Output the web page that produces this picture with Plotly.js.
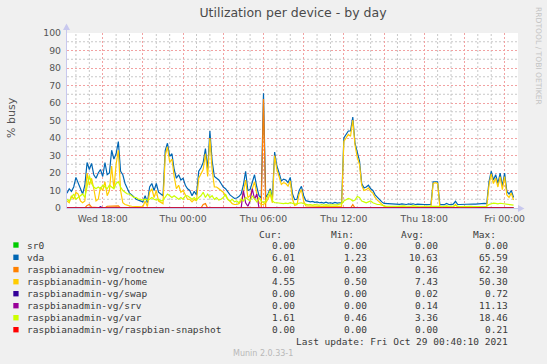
<!DOCTYPE html>
<html>
<head>
<meta charset="utf-8">
<script src="https://cdn.plot.ly/plotly-3.0.1.min.js"></script>
<style>
  html, body { margin: 0; padding: 0; background: #f0f0f0; }
  #chart { width: 547px; height: 364px; }
</style>
</head>
<body>
<div id="chart"></div>
<script>
// ---------------- DATA ----------------
// 10-minute samples starting Wed 2021-10-27 15:20
const sampleStart = '2021-10-27T15:20:00Z';
const sampleStepMinutes = 10;

const vda = [
  8.5, 11, 9.5, 12, 17.5, 14, 10.5, 8, 13, 26,
  22, 25.5, 19, 17, 20, 22, 18, 26, 19, 20,
  33, 28, 31, 38, 21, 19, 14, 11, 8.5, 7.5,
  6, 5, 4.5, 4, 3.5, 7, 3, 12, 14, 10,
  14, 9, 8, 7, 33, 37, 29.5, 31, 22, 17,
  19, 16, 17, 13, 11, 10, 7, 9.5, 7.5, 21,
  23, 26, 34, 22, 44, 27, 18, 17, 16, 14,
  12, 11, 9, 7.5, 6.5, 5.5, 5.7, 6.5, 8, 13,
  21, 10, 10.5, 15, 19, 12, 7, 5.7, 65.59, 6,
  8, 11, 6, 32, 24, 20, 15.5, 16.5, 16, 14.5,
  17.5, 8, 4.8, 5, 10, 12.4, 7, 4.2, 4, 3.5,
  3.8, 3.2, 3.5, 3, 3.2, 2.8, 3.3, 2.8, 3, 2.7,
  3.2, 2.8, 3, 2.8, 40, 42, 44, 44, 52, 37,
  32, 27, 14, 11.5, 12, 13, 11, 10, 7.5, 6,
  5, 3.5, 2.6, 2.5, 2.4, 2.2, 2.5, 2.2, 2.3, 2.1,
  2.4, 2.2, 2.0, 2.3, 2.1, 2.4, 2.0, 2.2, 2.0, 2.1,
  2.0, 1.9, 1.9, 2.0, 15, 15.2, 15, 1.9, 2.0, 1.9,
  2.6, 2.0, 1.9, 2.2, 3.8, 2.0, 2.0, 2.1, 2.0, 2.2,
  2.0, 2.1, 2.3, 2.2, 2.4, 2.2, 2.5, 2.6, 2.5, 15,
  21, 16, 19, 14, 20, 12.5, 20, 9.5, 8, 10,
  6.01
];

const home = [
  4, 3, 7, 5, 9, 8, 4, 3, 4, 20,
  13, 17, 11, 4, 5, 12, 10, 15, 7, 10,
  24, 11, 25, 33, 10, 3, 2, 1.5, 1.2, 1,
  1, 0.9, 0.8, 0.8, 0.7, 4, 0.8, 9, 11, 6,
  10, 4, 3, 2.5, 30, 35, 26, 28, 18, 11,
  13, 9, 10, 7, 5, 5, 3.5, 5, 4, 17,
  20, 22, 31, 18, 40, 22, 12, 12, 11, 10,
  9, 7, 5, 4, 2.5, 2, 2, 2.5, 4, 9,
  16, 6, 7, 11, 15, 8, 3, 2, 2, 3,
  5, 8, 3, 30, 22, 18, 13.5, 14.5, 14, 12.5,
  15.5, 5, 1.5, 2, 8, 10.5, 4, 1.2, 1.1, 1,
  1.2, 1, 1.1, 0.9, 1, 0.8, 1.1, 0.9, 1, 0.8,
  1, 0.9, 1, 0.9, 38, 40, 42, 41, 50.3, 36,
  29, 25, 13, 10, 10.5, 11.5, 9.5, 8.5, 6, 4.5,
  3.5, 2, 1, 0.8, 0.7, 0.6, 0.8, 0.6, 0.7, 0.6,
  0.8, 0.6, 0.5, 0.7, 0.6, 0.8, 0.5, 0.6, 0.5, 0.6,
  0.5, 0.5, 0.5, 0.6, 14, 14.5, 14, 0.5, 0.6, 0.5,
  1, 0.6, 0.5, 0.6, 2, 0.6, 0.5, 0.6, 0.5, 0.6,
  0.5, 0.6, 0.7, 0.6, 0.8, 0.6, 0.9, 1, 0.9, 13,
  19.5, 14, 17, 12, 18, 10.5, 18, 7.5, 6, 8.5,
  4.55
];

const varSeries = [
  5, 4, 6, 8, 5, 6, 7, 8, 6, 12,
  18.46, 14, 12, 11, 12, 11, 13, 12, 11, 13,
  12, 11, 14, 15, 12, 10, 9, 8, 8, 7,
  6, 6, 5, 5, 4.5, 5, 4.5, 5, 6, 5,
  4.5, 5, 4, 4.5, 6, 8, 7, 6, 7, 6,
  5, 6, 5, 7, 7, 6, 5, 6, 4.5, 6,
  7, 9, 6, 8, 6, 7, 5, 6, 4.5, 5,
  6, 8, 5, 4, 5, 3.5, 4, 3, 5, 4,
  6, 5, 4, 7, 5, 3.5, 6, 4, 3, 4,
  7, 10, 4, 3, 3, 2.8, 3, 2.5, 2.8, 2.5,
  3, 2.5, 2.3, 2.5, 2.8, 3, 2.5, 2, 1.8, 2,
  1.7, 2, 1.8, 1.6, 2, 1.7, 1.9, 1.6, 1.8, 1.7,
  2, 1.8, 2.2, 2.5, 4, 5, 5.5, 5, 4, 4.5,
  6.6, 6, 4, 3.5, 3, 3.5, 4, 3, 2.5, 2,
  2, 1.5, 1.2, 1, 1.1, 1, 1.2, 1, 0.9, 1.1,
  1, 1.2, 1, 0.9, 1, 1.3, 1, 0.9, 1, 1.1,
  1, 0.9, 1, 0.9, 1, 1, 0.9, 1, 0.8, 1,
  1.2, 0.9, 0.8, 1, 1.5, 0.9, 0.8, 0.9, 0.8, 0.9,
  0.8, 0.9, 0.8, 0.9, 0.8, 0.7, 0.8, 0.9, 1, 2,
  2.5, 2.8, 2.6, 2.4, 2.7, 2.5, 2.3, 2.2, 2, 1.8,
  1.61
];

// Sparse series: sample indices and values (zero elsewhere)
const sr0Idx = [0, 200];
const sr0Val = [0, 0];
const rootnewIdx = [0, 8, 9, 10, 11, 17, 18, 20, 22, 23, 24, 60, 61, 62, 63, 87, 88, 89, 127, 128, 129, 200];
const rootnewVal = [0, 0, 1.5, 2, 0.5, 0, 1, 1, 1, 1.2, 0, 0, 2, 2.5, 0, 0, 62.3, 0, 0, 2, 0, 0];
const swapIdx = [0, 14, 15, 16, 200];
const swapVal = [0, 0, 0.72, 0, 0];
const srvIdx = [0, 78, 79, 80, 81, 82, 83, 84, 85, 86, 200];
const srvVal = [0, 0, 10, 3, 1, 4, 11.13, 5, 8, 0, 0];
const snapIdx = [0, 100, 101, 102, 200];
const snapVal = [0, 0, 0.21, 0, 0];

const seriesNames = ['sr0', 'vda', 'raspbianadmin-vg/rootnew', 'raspbianadmin-vg/home',
  'raspbianadmin-vg/swap', 'raspbianadmin-vg/srv', 'raspbianadmin-vg/var',
  'raspbianadmin-vg/raspbian-snapshot'];
const seriesColors = ['#00CC00', '#0066B3', '#FF8000', '#FFCC00', '#330099', '#990099', '#CCFF00', '#FF0000'];
const curVals = ['0.00', '6.01', '0.00', '4.55', '0.00', '0.00', '1.61', '0.00'];
const minVals = ['0.00', '1.23', '0.00', '0.50', '0.00', '0.00', '0.46', '0.00'];
const avgVals = ['0.00', '10.63', '0.36', '7.43', '0.02', '0.14', '3.36', '0.00'];
const maxVals = ['0.00', '65.59', '62.30', '50.30', '0.72', '11.13', '18.46', '0.21'];
const colHeaders = ['Cur:', 'Min:', 'Avg:', 'Max:'];

const tickTimes = ['2021-10-27 18:00', '2021-10-27 21:00', '2021-10-28 00:00', '2021-10-28 03:00',
  '2021-10-28 06:00', '2021-10-28 09:00', '2021-10-28 12:00', '2021-10-28 15:00',
  '2021-10-28 18:00', '2021-10-28 21:00', '2021-10-29 00:00'];
const tickLabels = ['Wed 18:00', '', 'Thu 00:00', '', 'Thu 06:00', '', 'Thu 12:00', '', 'Thu 18:00', '', 'Fri 00:00'];
const yTicks = [0, 10, 20, 30, 40, 50, 60, 70, 80, 90, 100];

const titleText = 'Utilization per device - by day';
const yTitle = '% busy';
const lastUpdate = 'Last update: Fri Oct 29 00:40:10 2021';
const muninVersion = 'Munin 2.0.33-1';
const rrdCredit = 'RRDTOOL / TOBI OETIKER';

// ---------------- BUILD ----------------
const xStart = '2021-10-27 15:20', xEnd = '2021-10-29 01:00';
const t0 = Date.parse(sampleStart);
function fmt(ms) { return new Date(ms).toISOString().slice(0, 16).replace('T', ' '); }
function timeAt(i) { return fmt(t0 + i * sampleStepMinutes * 60000); }
const fullTimes = vda.map((_, i) => timeAt(i));

function trace(x, y, color) {
  return { x: x, y: y, type: 'scatter', mode: 'lines',
    line: { color: color, width: 1.2 }, hoverinfo: 'skip', showlegend: false };
}
const data = [
  trace(sr0Idx.map(timeAt), sr0Val, seriesColors[0]),
  trace(fullTimes, vda, seriesColors[1]),
  trace(rootnewIdx.map(timeAt), rootnewVal, seriesColors[2]),
  trace(fullTimes, home, seriesColors[3]),
  trace(swapIdx.map(timeAt), swapVal, seriesColors[4]),
  trace(srvIdx.map(timeAt), srvVal, seriesColors[5]),
  trace(fullTimes, varSeries, seriesColors[6]),
  trace(snapIdx.map(timeAt), snapVal, seriesColors[7])
];

// pixel -> paper helpers
const PL = 67, PR = 518, PT = 33, PB = 208;
const W = 547, H = 364;
const px = x => (x - PL) / (PR - PL);
const py = y => (PB - y) / (PB - PT);

const annotations = [];
const shapes = [];
const mono = 'DejaVu Sans Mono, monospace';
const sans = 'DejaVu Sans, sans-serif';
function ann(text, x, y, opts) {
  annotations.push(Object.assign({
    text: text, x: px(x), y: py(y), xref: 'paper', yref: 'paper',
    showarrow: false, xanchor: 'left', yanchor: 'middle', borderpad: 0,
    font: { family: mono, size: 9.5, color: '#3a3a3a' }
  }, opts || {}));
}

// minor grid (hourly vertical, every 5 units horizontal), in data coordinates so it sits above the plot background
const minorGrid = '#c8c8c8';
const majorGrid = '#f2a2a2';
const gridDash = '2px,2px';
const hourMs = 3600000;
for (let ms = Date.parse('2021-10-27T16:00:00Z'); ms <= Date.parse('2021-10-29T00:59:00Z'); ms += hourMs) {
  if (new Date(ms).getUTCHours() % 3 === 0) continue;
  shapes.push({ type: 'line', xref: 'x', yref: 'y', x0: fmt(ms), x1: fmt(ms), y0: 0, y1: 100, layer: 'below',
    line: { color: minorGrid, width: 1, dash: gridDash } });
}
for (let v = 5; v < 100; v += 10) {
  shapes.push({ type: 'line', xref: 'x', yref: 'y', x0: xStart, x1: xEnd, y0: v, y1: v, layer: 'below',
    line: { color: minorGrid, width: 1, dash: gridDash } });
}

// legend table
const headerRight = [282.7, 354.7, 425.3, 496.7];
colHeaders.forEach((h, i) => ann(h, headerRight[i], 234, { xanchor: 'right' }));
const rowY = [245, 257.3, 269.6, 281.7, 293.7, 305.7, 317.7, 329.7];
const valRight = [296, 368, 438.7, 509.3];
seriesNames.forEach((name, i) => {
  shapes.push({ type: 'rect', xref: 'paper', yref: 'paper',
    x0: px(13.3), x1: px(18.6), y0: py(rowY[i] + 2.7), y1: py(rowY[i] - 2.7),
    fillcolor: seriesColors[i], line: { width: 0 } });
  ann(name, 25.5, rowY[i]);
  [curVals, minVals, avgVals, maxVals].forEach((col, j) => ann(col[i], valRight[j], rowY[i], { xanchor: 'right' }));
});
ann(lastUpdate, 509.3, 341.3, { xanchor: 'right' });
ann(muninVersion, 263, 353.3, { xanchor: 'center', font: { family: sans, size: 8, color: '#b8b8b8' } });
ann(rrdCredit, 538.5, 56.5, { xanchor: 'center', textangle: 90, font: { family: sans, size: 7.6, color: '#c4c4c4' } });
ann(yTitle, 11, 118, { xanchor: 'center', textangle: -90, font: { family: sans, size: 11, color: '#555555' } });

// axis lines with arrows
const axisCol = '#c8c8ee';
shapes.push({ type: 'line', xref: 'paper', yref: 'paper', x0: px(66.5), x1: px(66.5), y0: py(208), y1: py(28), line: { color: axisCol, width: 1 } });
shapes.push({ type: 'path', xref: 'paper', yref: 'paper', fillcolor: axisCol, line: { width: 0 },
  path: `M ${px(63)} ${py(30)} L ${px(70)} ${py(30)} L ${px(66.5)} ${py(23.5)} Z` });
shapes.push({ type: 'line', xref: 'paper', yref: 'paper', x0: px(66.5), x1: px(520), y0: py(208.5), y1: py(208.5), line: { color: axisCol, width: 1 } });
shapes.push({ type: 'path', xref: 'paper', yref: 'paper', fillcolor: axisCol, line: { width: 0 },
  path: `M ${px(518)} ${py(205)} L ${px(518)} ${py(212)} L ${px(524.5)} ${py(208.5)} Z` });

const layout = {
  width: W, height: H,
  paper_bgcolor: '#f0f0f0', plot_bgcolor: '#ffffff',
  margin: { l: PL, r: W - PR, t: PT, b: H - PB, pad: 0 },
  title: { text: titleText, x: 293 / W, xref: 'container', xanchor: 'center',
    y: 1 - 13 / H, yref: 'container', yanchor: 'middle',
    font: { family: sans, size: 12.5, color: '#4a4a4a' } },
  showlegend: false,
  xaxis: {
    type: 'date', range: [xStart, xEnd], fixedrange: true,
    tickmode: 'array', tickvals: tickTimes, ticktext: tickLabels,
    showgrid: true, gridcolor: majorGrid, griddash: gridDash, gridwidth: 1,
    ticks: '', ticklabelstandoff: 4,
    tickfont: { family: sans, size: 9.3, color: '#555555' },
    showline: false, zeroline: false
  },
  yaxis: {
    range: [0, 100], fixedrange: true,
    tickmode: 'array', tickvals: yTicks, ticktext: yTicks.map(String),
    showgrid: true, gridcolor: majorGrid, griddash: gridDash, gridwidth: 1,
    ticks: '', ticklabelstandoff: 5,
    tickfont: { family: sans, size: 9.3, color: '#555555' },
    showline: false, zeroline: false
  },
  annotations: annotations,
  shapes: shapes
};

Plotly.newPlot('chart', data, layout, { staticPlot: true, displayModeBar: false });
</script>
</body>
</html>
